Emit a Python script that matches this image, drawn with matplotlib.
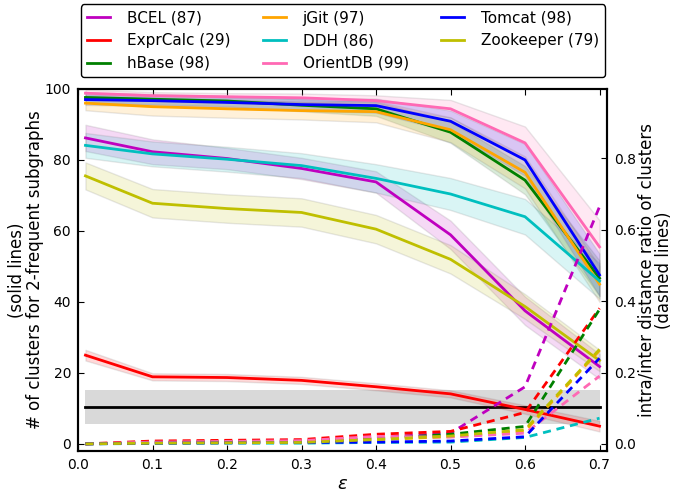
import matplotlib
matplotlib.use('Agg')
import matplotlib.pyplot as plt
import numpy as np

# epsilon values
eps = [0.01, 0.1, 0.2, 0.3, 0.4, 0.5, 0.6, 0.7]

projects = ['BCEL (87)', 'ExprCalc (29)', 'hBase (98)', 'jGit (97)',
            'DDH (86)', 'OrientDB (99)', 'Tomcat (98)', 'Zookeeper (79)']
colors = ['m', 'r', 'g', 'orange', 'c', 'hotpink', 'b', 'y']

# number of clusters (solid lines, left axis)
n_bcel = [86.2, 82.3, 80.4, 77.6, 73.8, 58.9, 37.5, 21.8]
n_expr = [25.0, 18.9, 18.7, 17.9, 16.1, 14.1, 9.7, 5.0]
n_hbase = [97.6, 97.1, 96.6, 95.4, 94.4, 87.8, 74.3, 46.7]
n_jgit = [96.0, 95.0, 94.4, 93.9, 93.6, 88.5, 76.5, 45.0]
n_ddh = [84.1, 81.7, 80.2, 78.4, 74.8, 70.4, 64.0, 45.9]
n_orient = [98.8, 98.1, 97.8, 97.5, 96.7, 94.4, 84.8, 55.5]
n_tomcat = [97.0, 96.7, 96.2, 95.6, 95.3, 90.9, 80.0, 47.6]
n_zoo = [75.5, 67.8, 66.3, 65.2, 60.5, 52.0, 38.7, 23.5]

# spread of the number of clusters (shaded bands)
s_bcel = [3.7, 3.5, 3.0, 3.0, 3.0, 4.0, 4.0, 3.5]
s_expr = [1.5, 1.0, 1.0, 1.0, 1.0, 1.0, 1.2, 1.5]
s_hbase = [1.5, 1.5, 1.5, 1.7, 2.0, 3.0, 4.0, 5.0]
s_jgit = [2.0, 2.5, 2.5, 2.5, 3.0, 3.5, 4.5, 5.0]
s_ddh = [3.5, 3.5, 3.5, 3.5, 4.0, 4.5, 5.0, 5.0]
s_orient = [1.0, 1.0, 1.0, 1.2, 1.5, 2.5, 4.6, 7.5]
s_tomcat = [1.5, 1.5, 1.5, 1.7, 2.0, 3.0, 4.5, 6.0]
s_zoo = [3.8, 4.0, 4.0, 4.0, 4.0, 4.0, 3.5, 3.0]

# intra/inter distance ratio (dashed lines, right axis)
r_bcel = [0.0, 0.004, 0.006, 0.008, 0.018, 0.030, 0.160, 0.665]
r_expr = [0.0, 0.008, 0.010, 0.012, 0.027, 0.035, 0.088, 0.380]
r_hbase = [0.0, 0.003, 0.005, 0.006, 0.014, 0.027, 0.049, 0.377]
r_jgit = [0.0, 0.003, 0.004, 0.005, 0.012, 0.020, 0.036, 0.262]
r_ddh = [0.0, 0.001, 0.002, 0.002, 0.004, 0.005, 0.018, 0.072]
r_orient = [0.0, 0.005, 0.007, 0.009, 0.021, 0.019, 0.030, 0.190]
r_tomcat = [0.0, 0.002, 0.003, 0.004, 0.005, 0.008, 0.020, 0.240]
r_zoo = [0.0, 0.002, 0.003, 0.004, 0.012, 0.022, 0.040, 0.265]

# reference level (black line + grey band)
ref_mean = 10.4
ref_low = 5.6
ref_high = 15.2

n_all = [n_bcel, n_expr, n_hbase, n_jgit, n_ddh, n_orient, n_tomcat, n_zoo]
s_all = [s_bcel, s_expr, s_hbase, s_jgit, s_ddh, s_orient, s_tomcat, s_zoo]
r_all = [r_bcel, r_expr, r_hbase, r_jgit, r_ddh, r_orient, r_tomcat, r_zoo]

fig = plt.figure(figsize=(6.73, 4.96), dpi=100)
ax = fig.add_axes([0.1159, 0.0907, 0.786, 0.730])
ax2 = ax.twinx()

# grey band first so everything sits on top of it
ax.fill_between([eps[0], eps[-1]], ref_low, ref_high, facecolor='0.85',
                edgecolor='none', zorder=1)
ax.plot([eps[0], eps[-1]], [ref_mean, ref_mean], color='k', lw=2, zorder=2)

handles = []
for name, c, n, s in zip(projects, colors, n_all, s_all):
    n = np.array(n)
    s = np.array(s)
    ax.fill_between(eps, n - s, n + s, facecolor=c, edgecolor='0.4',
                    alpha=0.15, lw=1, zorder=3)
    h, = ax.plot(eps, n, color=c, lw=2, label=name, zorder=4)
    handles.append(h)

for c, r in zip(colors, r_all):
    ax2.plot(eps, r, color=c, lw=2, linestyle=(0, (2.9, 2.1)))

ax.set_xlim(0, 0.71)
ax.set_ylim(-2, 100)
ax2.set_ylim(-0.02, 0.995)
ax.set_xticks([0.0, 0.1, 0.2, 0.3, 0.4, 0.5, 0.6, 0.7])
ax.set_yticks([0, 20, 40, 60, 80, 100])
ax2.set_yticks([0.0, 0.2, 0.4, 0.6, 0.8])

ax.tick_params(direction='in', top=True, right=False, length=4,
               labelsize=10, pad=5)
ax2.tick_params(direction='in', length=4, labelsize=10, pad=5)
for a in (ax, ax2):
    for sp in a.spines.values():
        sp.set_linewidth(1.5)

ax.set_xlabel(r'$\epsilon$', fontsize=13, labelpad=2)
ax.set_ylabel('(solid lines)\n# of clusters for 2-frequent subgraphs',
              fontsize=12, linespacing=1.0, labelpad=0.5)
ax2.set_ylabel('intra/inter distance ratio of clusters\n(dashed lines)',
               fontsize=12, linespacing=1.0, labelpad=1.0)

leg = ax.legend(handles=handles, loc='lower left', ncol=3, mode='expand',
                bbox_to_anchor=(0.006, 1.033, 0.99, 0.2), borderaxespad=0,
                fontsize=11, handlelength=1.5, handletextpad=1.1,
                fancybox=True, framealpha=1)
leg.get_frame().set_edgecolor('k')

fig.savefig('out.png', dpi=100)
